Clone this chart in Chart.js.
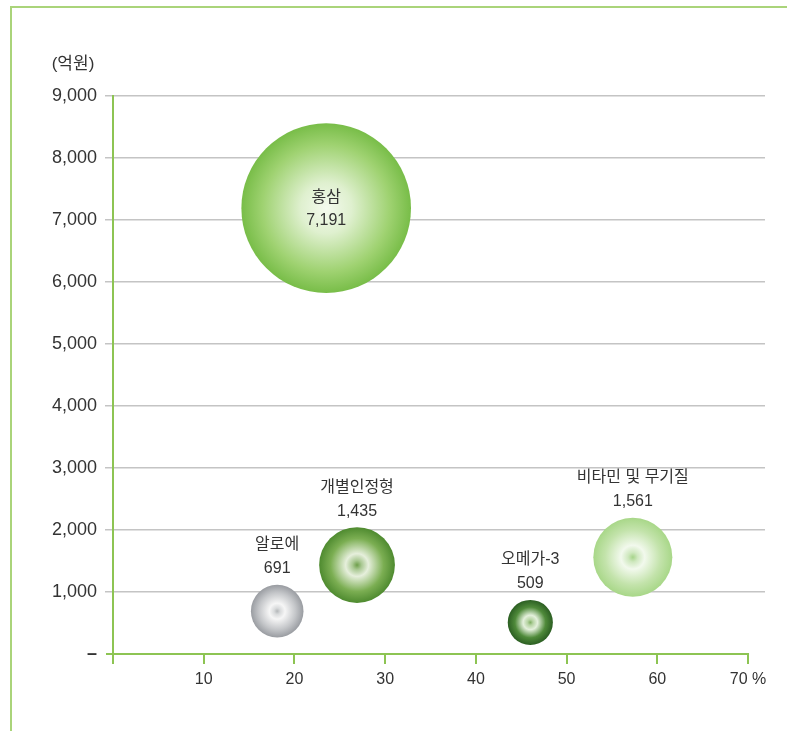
<!DOCTYPE html>
<html>
<head>
<meta charset="utf-8">
<script src="https://cdn.jsdelivr.net/npm/chart.js@4"></script>
<style>
  html, body { margin: 0; padding: 0; background: #fff; }
  #wrap { position: relative; width: 787px; height: 731px; }
</style>
</head>
<body>
<div id="wrap"><canvas id="c" width="787" height="731"></canvas></div>
<script>
// 건강기능식품 품목별 매출(억원)과 비중(%)
const names = ['홍삼', '알로에', '개별인정형', '오메가-3', '비타민 및 무기질'];
const shares = [23.5, 18.1, 26.9, 46.0, 57.3];
const sales = [7191, 691, 1435, 509, 1561];
const xTicks = [0, 10, 20, 30, 40, 50, 60, 70];
const yTicks = [0, 1000, 2000, 3000, 4000, 5000, 6000, 7000, 8000, 9000];

// radial shading per bubble, centre -> rim
const shades = [
  [[0, '#f4faee'], [0.3, '#dff0cf'], [0.75, '#9fd271'], [1, '#78bd48']],
  [[0, '#b4b7b9'], [0.12, '#d9dbdc'], [0.3, '#f6f6f6'], [0.7, '#c4c6c9'], [1, '#999ca1']],
  [[0, '#6e9f4b'], [0.12, '#a9c892'], [0.3, '#e6efdc'], [0.7, '#7bae52'], [1, '#4e8a2f']],
  [[0, '#7fae62'], [0.12, '#b5d3a2'], [0.32, '#e4f0dc'], [0.68, '#4f8a3a'], [1, '#2b5e22']],
  [[0, '#a6d48a'], [0.12, '#cfe8bf'], [0.3, '#f2f9ed'], [0.7, '#c3e3ab'], [1, '#a8d788']]
];

const GREEN = '#8dc453';
const TEXT = '#333';
const FONT = "'Liberation Sans', 'Noto Sans CJK KR', sans-serif";

const decor = {
  id: 'decor',
  beforeDraw(chart) {
    const ctx = chart.ctx;
    ctx.save();
    ctx.strokeStyle = '#aad47a';
    ctx.lineWidth = 2;
    ctx.beginPath();
    ctx.moveTo(11, 731); ctx.lineTo(11, 7); ctx.lineTo(787, 7);
    ctx.stroke();
    ctx.restore();
  },
  afterDraw(chart) {
    const ctx = chart.ctx, x = chart.scales.x, y = chart.scales.y, a = chart.chartArea;
    ctx.save();
    // x axis line stops at the last tick
    ctx.strokeStyle = GREEN;
    ctx.lineWidth = 2;
    ctx.beginPath();
    ctx.moveTo(a.left - 7, y.getPixelForValue(0));
    ctx.lineTo(x.getPixelForValue(70) + 1, y.getPixelForValue(0));
    ctx.stroke();
    // unit label
    ctx.fillStyle = TEXT;
    ctx.font = '17px ' + FONT;
    ctx.textAlign = 'center';
    ctx.textBaseline = 'middle';
    ctx.fillText('(억원)', a.left - 40, a.top - 32);
    ctx.restore();
  },
  afterDatasetsDraw(chart) {
    const ctx = chart.ctx;
    const meta = chart.getDatasetMeta(0);
    ctx.save();
    ctx.fillStyle = TEXT;
    ctx.font = '16px ' + FONT;
    ctx.textAlign = 'center';
    ctx.textBaseline = 'middle';
    meta.data.forEach((el, i) => {
      const r = el.options.radius;
      const val = sales[i].toLocaleString('en-US');
      if (r > 60) {
        ctx.fillText(names[i], el.x, el.y - 11);
        ctx.fillText(val, el.x, el.y + 12);
      } else {
        ctx.fillText(names[i], el.x, el.y - r - 40);
        ctx.fillText(val, el.x, el.y - r - 16);
      }
    });
    ctx.restore();
  }
};

new Chart(document.getElementById('c'), {
  type: 'bubble',
  data: {
    datasets: [{
      data: names.map((n, i) => ({ x: shares[i], y: sales[i], r: Math.sqrt(sales[i]) })),
      borderWidth: 0,
      hoverRadius: 0,
      clip: false,
      backgroundColor(ctx) {
        if (ctx.type !== 'data') return '#ccc';
        const chart = ctx.chart, i = ctx.dataIndex;
        const px = chart.scales.x.getPixelForValue(shares[i]);
        const py = chart.scales.y.getPixelForValue(sales[i]);
        if (!isFinite(px) || !isFinite(py)) return shades[i][shades[i].length - 1][1];
        const g = chart.ctx.createRadialGradient(px, py, 0, px, py, ctx.raw.r);
        shades[i].forEach(([o, c]) => g.addColorStop(o, c));
        return g;
      }
    }]
  },
  options: {
    responsive: false,
    animation: false,
    events: [],
    layout: { autoPadding: false, padding: { top: 96, right: 22, left: 0, bottom: 0 } },
    plugins: { legend: { display: false }, tooltip: { enabled: false } },
    scales: {
      x: {
        type: 'linear',
        min: 0,
        max: 71.87,
        afterBuildTicks(s) { s.ticks = xTicks.map(v => ({ value: v })); },
        afterFit(s) { s.height = 77; },
        border: { display: false },
        grid: { drawOnChartArea: false, drawTicks: true, tickLength: 10, color: GREEN, lineWidth: 2 },
        ticks: {
          padding: 6,
          color: TEXT,
          font: { size: 16, family: FONT },
          maxRotation: 0,
          autoSkip: false,
          callback: v => v === 0 ? '' : (v === 70 ? '70 %' : String(v))
        }
      },
      y: {
        min: 0,
        max: 9000,
        afterBuildTicks(s) { s.ticks = yTicks.map(v => ({ value: v })); },
        afterFit(s) { s.width = 113; },
        border: { color: GREEN, width: 2 },
        grid: {
          color: c => c.tick && c.tick.value === 0 ? 'rgba(0,0,0,0)' : '#c4c4c4',
          lineWidth: 1.5,
          tickLength: 8
        },
        ticks: {
          padding: 8,
          color: TEXT,
          font: c => ({ size: 18, weight: c.tick && c.tick.value === 0 ? 'bold' : 'normal', family: FONT }),
          callback: v => v === 0 ? '–' : v.toLocaleString('en-US')
        }
      }
    }
  },
  plugins: [decor]
});
</script>
</body>
</html>
